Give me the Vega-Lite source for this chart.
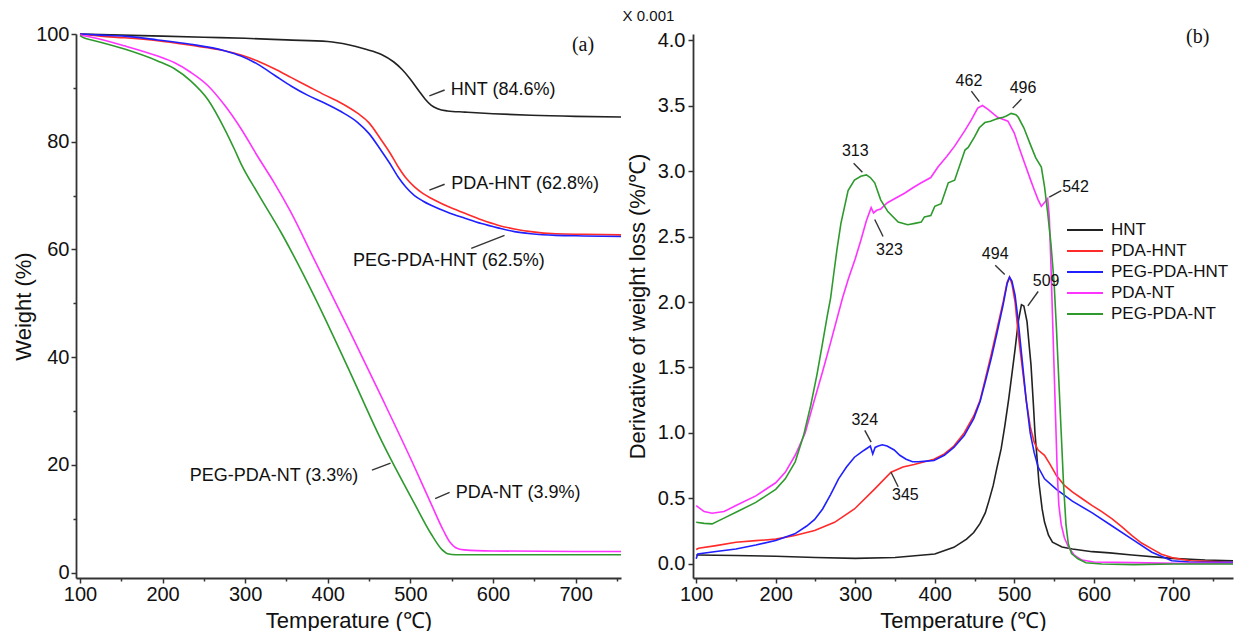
{
  "$schema": "https://vega.github.io/schema/vega-lite/v6.json",
  "background": "white",
  "padding": {"left": 12, "top": 9, "right": 0, "bottom": 0},
  "bounds": "flush",
  "spacing": 72,
  "config": {
    "font": "Liberation Sans",
    "view": {"stroke": null},
    "axis": {
      "domainColor": "#333333", "domainWidth": 1.8, "tickColor": "#333333", "tickWidth": 1.5,
      "labelFont": "Liberation Sans", "labelFontSize": 20, "labelColor": "#111111",
      "titleFont": "Liberation Sans", "titleFontSize": 22, "titleFontWeight": "normal", "titleColor": "#111111",
      "grid": false
    }
  },
  "datasets": {
    "tga": [
      {"s":"HNT","T":100,"W":100},{"s":"HNT","T":150,"W":99.8},{"s":"HNT","T":200,"W":99.6},{"s":"HNT","T":250,"W":99.4},{"s":"HNT","T":300,"W":99.2},{"s":"HNT","T":350,"W":98.9},{"s":"HNT","T":400,"W":98.6},{"s":"HNT","T":425,"W":98.0},{"s":"HNT","T":445,"W":97.2},{"s":"HNT","T":465,"W":96.2},{"s":"HNT","T":480,"W":94.8},{"s":"HNT","T":490,"W":93.4},{"s":"HNT","T":500,"W":91.6},{"s":"HNT","T":510,"W":89.5},{"s":"HNT","T":518,"W":87.9},{"s":"HNT","T":525,"W":86.8},{"s":"HNT","T":533,"W":86.1},{"s":"HNT","T":545,"W":85.7},{"s":"HNT","T":566,"W":85.5},{"s":"HNT","T":600,"W":85.2},{"s":"HNT","T":646,"W":84.9},{"s":"HNT","T":700,"W":84.7},{"s":"HNT","T":755,"W":84.6},
      {"s":"PDA-HNT","T":100,"W":100},{"s":"PDA-HNT","T":125,"W":99.6},{"s":"PDA-HNT","T":154,"W":99.3},{"s":"PDA-HNT","T":194,"W":98.75},{"s":"PDA-HNT","T":234,"W":97.9},{"s":"PDA-HNT","T":275,"W":96.9},{"s":"PDA-HNT","T":295,"W":96.1},{"s":"PDA-HNT","T":315,"W":95.0},{"s":"PDA-HNT","T":336,"W":93.5},{"s":"PDA-HNT","T":356,"W":91.9},{"s":"PDA-HNT","T":376,"W":90.3},{"s":"PDA-HNT","T":396,"W":88.7},{"s":"PDA-HNT","T":416,"W":87.2},{"s":"PDA-HNT","T":436,"W":85.3},{"s":"PDA-HNT","T":450,"W":83.5},{"s":"PDA-HNT","T":464,"W":80.5},{"s":"PDA-HNT","T":475,"W":78.0},{"s":"PDA-HNT","T":485,"W":75.4},{"s":"PDA-HNT","T":495,"W":73.2},{"s":"PDA-HNT","T":505,"W":71.6},{"s":"PDA-HNT","T":515,"W":70.4},{"s":"PDA-HNT","T":525,"W":69.5},{"s":"PDA-HNT","T":545,"W":68.0},{"s":"PDA-HNT","T":566,"W":66.7},{"s":"PDA-HNT","T":586,"W":65.5},{"s":"PDA-HNT","T":606,"W":64.5},{"s":"PDA-HNT","T":626,"W":63.8},{"s":"PDA-HNT","T":646,"W":63.3},{"s":"PDA-HNT","T":676,"W":62.9},{"s":"PDA-HNT","T":710,"W":62.8},{"s":"PDA-HNT","T":755,"W":62.7},
      {"s":"PEG-PDA-HNT","T":100,"W":100},{"s":"PEG-PDA-HNT","T":125,"W":99.8},{"s":"PEG-PDA-HNT","T":154,"W":99.6},{"s":"PEG-PDA-HNT","T":194,"W":98.9},{"s":"PEG-PDA-HNT","T":234,"W":98.1},{"s":"PEG-PDA-HNT","T":275,"W":96.9},{"s":"PEG-PDA-HNT","T":295,"W":95.9},{"s":"PEG-PDA-HNT","T":315,"W":94.4},{"s":"PEG-PDA-HNT","T":336,"W":92.3},{"s":"PEG-PDA-HNT","T":356,"W":90.3},{"s":"PEG-PDA-HNT","T":376,"W":88.6},{"s":"PEG-PDA-HNT","T":396,"W":87.2},{"s":"PEG-PDA-HNT","T":416,"W":85.6},{"s":"PEG-PDA-HNT","T":436,"W":83.6},{"s":"PEG-PDA-HNT","T":450,"W":81.5},{"s":"PEG-PDA-HNT","T":464,"W":78.5},{"s":"PEG-PDA-HNT","T":475,"W":76.0},{"s":"PEG-PDA-HNT","T":485,"W":73.5},{"s":"PEG-PDA-HNT","T":495,"W":71.5},{"s":"PEG-PDA-HNT","T":505,"W":70.0},{"s":"PEG-PDA-HNT","T":515,"W":69.0},{"s":"PEG-PDA-HNT","T":525,"W":68.2},{"s":"PEG-PDA-HNT","T":545,"W":66.9},{"s":"PEG-PDA-HNT","T":566,"W":65.8},{"s":"PEG-PDA-HNT","T":586,"W":64.8},{"s":"PEG-PDA-HNT","T":606,"W":64.0},{"s":"PEG-PDA-HNT","T":626,"W":63.3},{"s":"PEG-PDA-HNT","T":646,"W":62.9},{"s":"PEG-PDA-HNT","T":676,"W":62.6},{"s":"PEG-PDA-HNT","T":710,"W":62.5},{"s":"PEG-PDA-HNT","T":755,"W":62.4},
      {"s":"PDA-NT","T":100,"W":99.8},{"s":"PDA-NT","T":114,"W":99.4},{"s":"PDA-NT","T":154,"W":97.8},{"s":"PDA-NT","T":194,"W":95.9},{"s":"PDA-NT","T":214,"W":94.7},{"s":"PDA-NT","T":234,"W":92.9},{"s":"PDA-NT","T":255,"W":90.4},{"s":"PDA-NT","T":275,"W":86.8},{"s":"PDA-NT","T":295,"W":82.4},{"s":"PDA-NT","T":315,"W":77.3},{"s":"PDA-NT","T":335,"W":72.4},{"s":"PDA-NT","T":355,"W":67.0},{"s":"PDA-NT","T":384,"W":58.0},{"s":"PDA-NT","T":424,"W":45.6},{"s":"PDA-NT","T":465,"W":32.6},{"s":"PDA-NT","T":505,"W":19.6},{"s":"PDA-NT","T":525,"W":12.8},{"s":"PDA-NT","T":540,"W":7.8},{"s":"PDA-NT","T":548,"W":5.6},{"s":"PDA-NT","T":555,"W":4.6},{"s":"PDA-NT","T":565,"W":4.2},{"s":"PDA-NT","T":600,"W":4.0},{"s":"PDA-NT","T":700,"W":3.9},{"s":"PDA-NT","T":755,"W":3.9},
      {"s":"PEG-PDA-NT","T":100,"W":99.7},{"s":"PEG-PDA-NT","T":106,"W":99.2},{"s":"PEG-PDA-NT","T":114,"W":98.9},{"s":"PEG-PDA-NT","T":154,"W":97.2},{"s":"PEG-PDA-NT","T":194,"W":95.0},{"s":"PEG-PDA-NT","T":214,"W":93.6},{"s":"PEG-PDA-NT","T":234,"W":91.3},{"s":"PEG-PDA-NT","T":255,"W":87.8},{"s":"PEG-PDA-NT","T":275,"W":82.4},{"s":"PEG-PDA-NT","T":287,"W":78.6},{"s":"PEG-PDA-NT","T":295,"W":75.9},{"s":"PEG-PDA-NT","T":315,"W":70.5},{"s":"PEG-PDA-NT","T":344,"W":63.0},{"s":"PEG-PDA-NT","T":384,"W":51.2},{"s":"PEG-PDA-NT","T":424,"W":38.2},{"s":"PEG-PDA-NT","T":465,"W":24.5},{"s":"PEG-PDA-NT","T":505,"W":12.8},{"s":"PEG-PDA-NT","T":525,"W":7.2},{"s":"PEG-PDA-NT","T":538,"W":4.3},{"s":"PEG-PDA-NT","T":545,"W":3.5},{"s":"PEG-PDA-NT","T":555,"W":3.3},{"s":"PEG-PDA-NT","T":600,"W":3.3},{"s":"PEG-PDA-NT","T":700,"W":3.3},{"s":"PEG-PDA-NT","T":755,"W":3.3}
    ],
    "annA": [
      {"T":549,"W":89.6,"t":"HNT (84.6%)"},
      {"T":549.5,"W":72.1,"t":"PDA-HNT (62.8%)"},
      {"T":430.5,"W":57.9,"t":"PEG-PDA-HNT (62.5%)"},
      {"T":232.8,"W":18.0,"t":"PEG-PDA-NT (3.3%)"},
      {"T":555,"W":14.7,"t":"PDA-NT (3.9%)"}
    ],
    "leadA": [
      {"T":523,"W":88.5,"T2":541.5,"W2":89.6},
      {"T":523,"W":71.0,"T2":541.5,"W2":72.1},
      {"T":573.7,"W":60.2,"T2":614,"W2":62.6},
      {"T":453.5,"W":19.0,"T2":476,"W2":20.3},
      {"T":530,"W":13.7,"T2":547.5,"W2":14.9}
    ],
    "dtg": [
      {"s":"HNT","T":100,"D":0.069},{"s":"HNT","T":150,"D":0.065},{"s":"HNT","T":200,"D":0.059},{"s":"HNT","T":250,"D":0.05},{"s":"HNT","T":300,"D":0.043},{"s":"HNT","T":350,"D":0.05},{"s":"HNT","T":400,"D":0.076},{"s":"HNT","T":424,"D":0.127},{"s":"HNT","T":440,"D":0.19},{"s":"HNT","T":449,"D":0.24},{"s":"HNT","T":457,"D":0.31},{"s":"HNT","T":463.5,"D":0.39},{"s":"HNT","T":468,"D":0.48},{"s":"HNT","T":473.5,"D":0.6},{"s":"HNT","T":478,"D":0.73},{"s":"HNT","T":483.5,"D":0.88},{"s":"HNT","T":488,"D":1.05},{"s":"HNT","T":493,"D":1.26},{"s":"HNT","T":497,"D":1.45},{"s":"HNT","T":501,"D":1.64},{"s":"HNT","T":505,"D":1.85},{"s":"HNT","T":509,"D":1.98},{"s":"HNT","T":512,"D":1.97},{"s":"HNT","T":516,"D":1.85},{"s":"HNT","T":519,"D":1.65},{"s":"HNT","T":521,"D":1.52},{"s":"HNT","T":524,"D":1.22},{"s":"HNT","T":526,"D":1.0},{"s":"HNT","T":529,"D":0.78},{"s":"HNT","T":531,"D":0.62},{"s":"HNT","T":535,"D":0.42},{"s":"HNT","T":538,"D":0.32},{"s":"HNT","T":543,"D":0.22},{"s":"HNT","T":548,"D":0.166},{"s":"HNT","T":560,"D":0.13},{"s":"HNT","T":573,"D":0.115},{"s":"HNT","T":598,"D":0.094},{"s":"HNT","T":620,"D":0.085},{"s":"HNT","T":648,"D":0.069},{"s":"HNT","T":698,"D":0.043},{"s":"HNT","T":740,"D":0.03},{"s":"HNT","T":775,"D":0.025},
      {"s":"PDA-HNT","T":100,"D":0.11},{"s":"PDA-HNT","T":103,"D":0.12},{"s":"PDA-HNT","T":125,"D":0.14},{"s":"PDA-HNT","T":150,"D":0.166},{"s":"PDA-HNT","T":175,"D":0.178},{"s":"PDA-HNT","T":200,"D":0.19},{"s":"PDA-HNT","T":224,"D":0.217},{"s":"PDA-HNT","T":249,"D":0.255},{"s":"PDA-HNT","T":274,"D":0.318},{"s":"PDA-HNT","T":299,"D":0.42},{"s":"PDA-HNT","T":324,"D":0.57},{"s":"PDA-HNT","T":345,"D":0.7},{"s":"PDA-HNT","T":360,"D":0.74},{"s":"PDA-HNT","T":374,"D":0.76},{"s":"PDA-HNT","T":399,"D":0.8},{"s":"PDA-HNT","T":412,"D":0.84},{"s":"PDA-HNT","T":424,"D":0.9},{"s":"PDA-HNT","T":437,"D":1.0},{"s":"PDA-HNT","T":449,"D":1.13},{"s":"PDA-HNT","T":457,"D":1.25},{"s":"PDA-HNT","T":463.5,"D":1.41},{"s":"PDA-HNT","T":471,"D":1.6},{"s":"PDA-HNT","T":478.5,"D":1.8},{"s":"PDA-HNT","T":486,"D":2.0},{"s":"PDA-HNT","T":491,"D":2.15},{"s":"PDA-HNT","T":494,"D":2.19},{"s":"PDA-HNT","T":497,"D":2.14},{"s":"PDA-HNT","T":501,"D":2.0},{"s":"PDA-HNT","T":505,"D":1.75},{"s":"PDA-HNT","T":510,"D":1.5},{"s":"PDA-HNT","T":515,"D":1.25},{"s":"PDA-HNT","T":520,"D":1.05},{"s":"PDA-HNT","T":525,"D":0.93},{"s":"PDA-HNT","T":530,"D":0.87},{"s":"PDA-HNT","T":538,"D":0.83},{"s":"PDA-HNT","T":545,"D":0.76},{"s":"PDA-HNT","T":553,"D":0.675},{"s":"PDA-HNT","T":563,"D":0.6},{"s":"PDA-HNT","T":573,"D":0.55},{"s":"PDA-HNT","T":585,"D":0.5},{"s":"PDA-HNT","T":598,"D":0.446},{"s":"PDA-HNT","T":610,"D":0.4},{"s":"PDA-HNT","T":623,"D":0.344},{"s":"PDA-HNT","T":635,"D":0.285},{"s":"PDA-HNT","T":648,"D":0.217},{"s":"PDA-HNT","T":660,"D":0.16},{"s":"PDA-HNT","T":673,"D":0.115},{"s":"PDA-HNT","T":685,"D":0.075},{"s":"PDA-HNT","T":698,"D":0.05},{"s":"PDA-HNT","T":710,"D":0.035},{"s":"PDA-HNT","T":722,"D":0.025},{"s":"PDA-HNT","T":750,"D":0.018},{"s":"PDA-HNT","T":775,"D":0.013},
      {"s":"PEG-PDA-HNT","T":100,"D":0.04},{"s":"PEG-PDA-HNT","T":102,"D":0.077},{"s":"PEG-PDA-HNT","T":125,"D":0.095},{"s":"PEG-PDA-HNT","T":150,"D":0.115},{"s":"PEG-PDA-HNT","T":175,"D":0.145},{"s":"PEG-PDA-HNT","T":200,"D":0.18},{"s":"PEG-PDA-HNT","T":224,"D":0.23},{"s":"PEG-PDA-HNT","T":239,"D":0.29},{"s":"PEG-PDA-HNT","T":249,"D":0.34},{"s":"PEG-PDA-HNT","T":259,"D":0.42},{"s":"PEG-PDA-HNT","T":269,"D":0.53},{"s":"PEG-PDA-HNT","T":279,"D":0.65},{"s":"PEG-PDA-HNT","T":289,"D":0.74},{"s":"PEG-PDA-HNT","T":299,"D":0.815},{"s":"PEG-PDA-HNT","T":309,"D":0.86},{"s":"PEG-PDA-HNT","T":314,"D":0.88},{"s":"PEG-PDA-HNT","T":319,"D":0.9},{"s":"PEG-PDA-HNT","T":322,"D":0.84},{"s":"PEG-PDA-HNT","T":325,"D":0.89},{"s":"PEG-PDA-HNT","T":329,"D":0.9},{"s":"PEG-PDA-HNT","T":334,"D":0.91},{"s":"PEG-PDA-HNT","T":340,"D":0.9},{"s":"PEG-PDA-HNT","T":349,"D":0.87},{"s":"PEG-PDA-HNT","T":356,"D":0.83},{"s":"PEG-PDA-HNT","T":364,"D":0.8},{"s":"PEG-PDA-HNT","T":372,"D":0.78},{"s":"PEG-PDA-HNT","T":379,"D":0.78},{"s":"PEG-PDA-HNT","T":390,"D":0.785},{"s":"PEG-PDA-HNT","T":399,"D":0.79},{"s":"PEG-PDA-HNT","T":412,"D":0.83},{"s":"PEG-PDA-HNT","T":424,"D":0.89},{"s":"PEG-PDA-HNT","T":437,"D":0.98},{"s":"PEG-PDA-HNT","T":449,"D":1.11},{"s":"PEG-PDA-HNT","T":457,"D":1.24},{"s":"PEG-PDA-HNT","T":463.5,"D":1.39},{"s":"PEG-PDA-HNT","T":471,"D":1.57},{"s":"PEG-PDA-HNT","T":478.5,"D":1.77},{"s":"PEG-PDA-HNT","T":486,"D":1.98},{"s":"PEG-PDA-HNT","T":491,"D":2.14},{"s":"PEG-PDA-HNT","T":494,"D":2.19},{"s":"PEG-PDA-HNT","T":497,"D":2.16},{"s":"PEG-PDA-HNT","T":501,"D":2.05},{"s":"PEG-PDA-HNT","T":505,"D":1.85},{"s":"PEG-PDA-HNT","T":510,"D":1.55},{"s":"PEG-PDA-HNT","T":515,"D":1.25},{"s":"PEG-PDA-HNT","T":520,"D":1.0},{"s":"PEG-PDA-HNT","T":525,"D":0.85},{"s":"PEG-PDA-HNT","T":530,"D":0.74},{"s":"PEG-PDA-HNT","T":538,"D":0.65},{"s":"PEG-PDA-HNT","T":553,"D":0.57},{"s":"PEG-PDA-HNT","T":573,"D":0.48},{"s":"PEG-PDA-HNT","T":598,"D":0.39},{"s":"PEG-PDA-HNT","T":623,"D":0.29},{"s":"PEG-PDA-HNT","T":648,"D":0.19},{"s":"PEG-PDA-HNT","T":673,"D":0.09},{"s":"PEG-PDA-HNT","T":698,"D":0.025},{"s":"PEG-PDA-HNT","T":720,"D":0.015},{"s":"PEG-PDA-HNT","T":775,"D":0.013},
      {"s":"PDA-NT","T":100,"D":0.446},{"s":"PDA-NT","T":110,"D":0.4},{"s":"PDA-NT","T":120,"D":0.387},{"s":"PDA-NT","T":135,"D":0.4},{"s":"PDA-NT","T":150,"D":0.446},{"s":"PDA-NT","T":175,"D":0.52},{"s":"PDA-NT","T":200,"D":0.62},{"s":"PDA-NT","T":212,"D":0.7},{"s":"PDA-NT","T":224.5,"D":0.83},{"s":"PDA-NT","T":237,"D":1.0},{"s":"PDA-NT","T":249,"D":1.26},{"s":"PDA-NT","T":259,"D":1.47},{"s":"PDA-NT","T":269,"D":1.69},{"s":"PDA-NT","T":284,"D":2.03},{"s":"PDA-NT","T":291,"D":2.17},{"s":"PDA-NT","T":300,"D":2.33},{"s":"PDA-NT","T":307,"D":2.47},{"s":"PDA-NT","T":314,"D":2.62},{"s":"PDA-NT","T":320,"D":2.72},{"s":"PDA-NT","T":323,"D":2.68},{"s":"PDA-NT","T":327,"D":2.7},{"s":"PDA-NT","T":332,"D":2.71},{"s":"PDA-NT","T":337,"D":2.74},{"s":"PDA-NT","T":341,"D":2.76},{"s":"PDA-NT","T":350,"D":2.79},{"s":"PDA-NT","T":362,"D":2.83},{"s":"PDA-NT","T":372,"D":2.87},{"s":"PDA-NT","T":383,"D":2.91},{"s":"PDA-NT","T":395,"D":2.95},{"s":"PDA-NT","T":404,"D":3.03},{"s":"PDA-NT","T":415,"D":3.11},{"s":"PDA-NT","T":425,"D":3.19},{"s":"PDA-NT","T":438,"D":3.31},{"s":"PDA-NT","T":446,"D":3.39},{"s":"PDA-NT","T":454,"D":3.48},{"s":"PDA-NT","T":460,"D":3.5},{"s":"PDA-NT","T":467,"D":3.47},{"s":"PDA-NT","T":479,"D":3.41},{"s":"PDA-NT","T":492,"D":3.38},{"s":"PDA-NT","T":500,"D":3.29},{"s":"PDA-NT","T":506,"D":3.18},{"s":"PDA-NT","T":513,"D":3.06},{"s":"PDA-NT","T":520,"D":2.94},{"s":"PDA-NT","T":525.5,"D":2.85},{"s":"PDA-NT","T":530,"D":2.78},{"s":"PDA-NT","T":534,"D":2.73},{"s":"PDA-NT","T":538,"D":2.76},{"s":"PDA-NT","T":542,"D":2.79},{"s":"PDA-NT","T":544,"D":2.65},{"s":"PDA-NT","T":546,"D":2.3},{"s":"PDA-NT","T":548,"D":1.9},{"s":"PDA-NT","T":550,"D":1.5},{"s":"PDA-NT","T":552,"D":1.1},{"s":"PDA-NT","T":554,"D":0.7},{"s":"PDA-NT","T":556,"D":0.45},{"s":"PDA-NT","T":559,"D":0.3},{"s":"PDA-NT","T":563,"D":0.2},{"s":"PDA-NT","T":568,"D":0.13},{"s":"PDA-NT","T":575,"D":0.07},{"s":"PDA-NT","T":585,"D":0.03},{"s":"PDA-NT","T":600,"D":0.015},{"s":"PDA-NT","T":650,"D":0.01},{"s":"PDA-NT","T":700,"D":0.005},{"s":"PDA-NT","T":775,"D":0.005},
      {"s":"PEG-PDA-NT","T":100,"D":0.318},{"s":"PEG-PDA-NT","T":110,"D":0.31},{"s":"PEG-PDA-NT","T":120,"D":0.306},{"s":"PEG-PDA-NT","T":135,"D":0.35},{"s":"PEG-PDA-NT","T":150,"D":0.395},{"s":"PEG-PDA-NT","T":175,"D":0.47},{"s":"PEG-PDA-NT","T":200,"D":0.57},{"s":"PEG-PDA-NT","T":212,"D":0.65},{"s":"PEG-PDA-NT","T":224.5,"D":0.78},{"s":"PEG-PDA-NT","T":235,"D":0.98},{"s":"PEG-PDA-NT","T":244,"D":1.21},{"s":"PEG-PDA-NT","T":252,"D":1.45},{"s":"PEG-PDA-NT","T":259,"D":1.69},{"s":"PEG-PDA-NT","T":265,"D":1.9},{"s":"PEG-PDA-NT","T":269,"D":2.03},{"s":"PEG-PDA-NT","T":272,"D":2.17},{"s":"PEG-PDA-NT","T":277,"D":2.4},{"s":"PEG-PDA-NT","T":282,"D":2.6},{"s":"PEG-PDA-NT","T":291,"D":2.85},{"s":"PEG-PDA-NT","T":299,"D":2.93},{"s":"PEG-PDA-NT","T":307,"D":2.96},{"s":"PEG-PDA-NT","T":314,"D":2.97},{"s":"PEG-PDA-NT","T":319,"D":2.95},{"s":"PEG-PDA-NT","T":324.5,"D":2.91},{"s":"PEG-PDA-NT","T":332,"D":2.78},{"s":"PEG-PDA-NT","T":341,"D":2.69},{"s":"PEG-PDA-NT","T":354,"D":2.61},{"s":"PEG-PDA-NT","T":366,"D":2.59},{"s":"PEG-PDA-NT","T":375,"D":2.6},{"s":"PEG-PDA-NT","T":383,"D":2.61},{"s":"PEG-PDA-NT","T":387,"D":2.65},{"s":"PEG-PDA-NT","T":395,"D":2.66},{"s":"PEG-PDA-NT","T":400,"D":2.73},{"s":"PEG-PDA-NT","T":408,"D":2.75},{"s":"PEG-PDA-NT","T":417,"D":2.91},{"s":"PEG-PDA-NT","T":425,"D":2.93},{"s":"PEG-PDA-NT","T":438,"D":3.16},{"s":"PEG-PDA-NT","T":442,"D":3.18},{"s":"PEG-PDA-NT","T":450,"D":3.26},{"s":"PEG-PDA-NT","T":456,"D":3.33},{"s":"PEG-PDA-NT","T":463,"D":3.37},{"s":"PEG-PDA-NT","T":470,"D":3.38},{"s":"PEG-PDA-NT","T":479,"D":3.4},{"s":"PEG-PDA-NT","T":486,"D":3.41},{"s":"PEG-PDA-NT","T":490,"D":3.42},{"s":"PEG-PDA-NT","T":496,"D":3.44},{"s":"PEG-PDA-NT","T":502,"D":3.43},{"s":"PEG-PDA-NT","T":505,"D":3.41},{"s":"PEG-PDA-NT","T":512,"D":3.33},{"s":"PEG-PDA-NT","T":521,"D":3.19},{"s":"PEG-PDA-NT","T":527,"D":3.1},{"s":"PEG-PDA-NT","T":534,"D":3.03},{"s":"PEG-PDA-NT","T":538,"D":2.88},{"s":"PEG-PDA-NT","T":542,"D":2.68},{"s":"PEG-PDA-NT","T":546,"D":2.45},{"s":"PEG-PDA-NT","T":550,"D":2.15},{"s":"PEG-PDA-NT","T":553,"D":1.8},{"s":"PEG-PDA-NT","T":556,"D":1.4},{"s":"PEG-PDA-NT","T":559,"D":1.0},{"s":"PEG-PDA-NT","T":562,"D":0.6},{"s":"PEG-PDA-NT","T":565,"D":0.3},{"s":"PEG-PDA-NT","T":568,"D":0.15},{"s":"PEG-PDA-NT","T":572,"D":0.08},{"s":"PEG-PDA-NT","T":580,"D":0.04},{"s":"PEG-PDA-NT","T":590,"D":0.01},{"s":"PEG-PDA-NT","T":610,"D":0.0},{"s":"PEG-PDA-NT","T":650,"D":-0.005},{"s":"PEG-PDA-NT","T":700,"D":0.0},{"s":"PEG-PDA-NT","T":775,"D":0.0}
    ],
    "annB": [
      {"T":300,"D":3.15,"t":"313"},{"T":343,"D":2.4,"t":"323"},{"T":443,"D":3.69,"t":"462"},{"T":511,"D":3.63,"t":"496"},{"T":577,"D":2.88,"t":"542"},{"T":476,"D":2.37,"t":"494"},{"T":540,"D":2.16,"t":"509"},{"T":312,"D":1.1,"t":"324"},{"T":363,"D":0.53,"t":"345"}
    ],
    "leadB": [
      {"T":298,"D":3.06,"T2":309,"D2":2.99},{"T":324.5,"D":2.63,"T2":335,"D2":2.5},{"T":446,"D":3.61,"T2":456,"D2":3.53},{"T":509,"D":3.55,"T2":498,"D2":3.48},{"T":559,"D":2.85,"T2":544,"D2":2.8},{"T":476,"D":2.28,"T2":488,"D2":2.21},{"T":530,"D":2.08,"T2":517,"D2":1.97},{"T":312,"D":1.02,"T2":320,"D2":0.93},{"T":345,"D":0.7,"T2":354,"D2":0.59}
    ]
  },
  "hconcat": [
    {
      "width": 545, "height": 544,
      "layer": [
        {
          "data": {"name": "tga"},
          "mark": {"type": "line", "strokeWidth": 1.6, "interpolate": "monotone"},
          "encoding": {
            "x": {"field": "T", "type": "quantitative", "scale": {"domain": [95.2, 755], "nice": false, "zero": false},
              "axis": {"title": "Temperature (℃)", "values": [100,150,200,250,300,350,400,450,500,550,600,650,700,750],
                "labelExpr": "datum.value % 100 === 0 ? datum.label : ''",
                "tickSize": {"condition": {"test": "datum.value % 100 === 0", "value": 5}, "value": 3},
                "labelPadding": 1, "titlePadding": 6}},
            "y": {"field": "W", "type": "quantitative", "scale": {"domain": [-1.02, 100], "nice": false, "zero": false},
              "axis": {"title": "Weight (%)", "values": [0,10,20,30,40,50,60,70,80,90,100],
                "labelExpr": "datum.value % 20 === 0 ? datum.label : ''",
                "tickSize": {"condition": {"test": "datum.value % 20 === 0", "value": 5}, "value": 3},
                "labelPadding": 2, "titlePadding": 0}},
            "color": {"field": "s", "type": "nominal",
              "scale": {"domain": ["HNT","PDA-HNT","PEG-PDA-HNT","PDA-NT","PEG-PDA-NT"], "range": ["#222222","#ff2a2a","#1f1fff","#ff33ff","#2e9a2e"]},
              "legend": null}
          }
        },
        {
          "data": {"name": "leadA"},
          "mark": {"type": "rule", "strokeWidth": 1.4, "color": "#333333"},
          "encoding": {"x": {"field": "T", "type": "quantitative"}, "y": {"field": "W", "type": "quantitative"}, "x2": {"field": "T2"}, "y2": {"field": "W2"}}
        },
        {
          "data": {"name": "annA"},
          "mark": {"type": "text", "align": "left", "baseline": "middle", "fontSize": 18, "color": "#111111", "font": "Liberation Sans"},
          "encoding": {"x": {"field": "T", "type": "quantitative"}, "y": {"field": "W", "type": "quantitative"}, "text": {"field": "t"}}
        },
        {
          "data": {"values": [{"T": 709, "W": 98, "t": "(a)"}]},
          "mark": {"type": "text", "align": "center", "baseline": "middle", "fontSize": 20, "color": "#111111", "font": "Liberation Serif"},
          "encoding": {"x": {"field": "T", "type": "quantitative"}, "y": {"field": "W", "type": "quantitative"}, "text": {"field": "t"}}
        }
      ]
    },
    {
      "width": 540, "height": 544,
      "layer": [
        {
          "data": {"name": "dtg"},
          "mark": {"type": "line", "strokeWidth": 1.6},
          "encoding": {
            "x": {"field": "T", "type": "quantitative", "scale": {"domain": [96, 775], "nice": false, "zero": false},
              "axis": {"title": "Temperature (℃)", "values": [100,150,200,250,300,350,400,450,500,550,600,650,700,750],
                "labelExpr": "datum.value % 100 === 0 ? datum.label : ''",
                "tickSize": {"condition": {"test": "datum.value % 100 === 0", "value": 5}, "value": 3},
                "labelPadding": 1, "titlePadding": 6}},
            "y": {"field": "D", "type": "quantitative", "scale": {"domain": [-0.107, 4.046], "nice": false, "zero": false},
              "axis": {"title": "Derivative of weight loss (%/℃)", "values": [0,0.25,0.5,0.75,1,1.25,1.5,1.75,2,2.25,2.5,2.75,3,3.25,3.5,3.75,4],
                "labelExpr": "round(datum.value*2) == datum.value*2 ? format(datum.value, '.1f') : ''",
                "tickSize": {"condition": {"test": "round(datum.value*2) == datum.value*2", "value": 5}, "value": 3},
                "labelPadding": 3, "titlePadding": 8}},
            "color": {"field": "s", "type": "nominal",
              "scale": {"domain": ["HNT","PDA-HNT","PEG-PDA-HNT","PDA-NT","PEG-PDA-NT"], "range": ["#222222","#ff2a2a","#1f1fff","#ff33ff","#2e9a2e"]},
              "legend": {"orient": "none", "legendX": 382, "legendY": 186, "title": null, "symbolType": "M-2,0H2", "symbolSize": 324, "symbolStrokeWidth": 2, "labelFontSize": 17, "labelFont": "Liberation Sans", "labelColor": "#111111", "rowPadding": 3, "labelOffset": 16}}
          }
        },
        {
          "data": {"name": "leadB"},
          "mark": {"type": "rule", "strokeWidth": 1.4, "color": "#333333"},
          "encoding": {"x": {"field": "T", "type": "quantitative"}, "y": {"field": "D", "type": "quantitative"}, "x2": {"field": "T2"}, "y2": {"field": "D2"}}
        },
        {
          "data": {"name": "annB"},
          "mark": {"type": "text", "align": "center", "baseline": "middle", "fontSize": 16, "color": "#111111", "font": "Liberation Sans"},
          "encoding": {"x": {"field": "T", "type": "quantitative"}, "y": {"field": "D", "type": "quantitative"}, "text": {"field": "t"}}
        },
        {
          "data": {"values": [{"T": 730.6, "D": 4.02, "t": "(b)"}]},
          "mark": {"type": "text", "align": "center", "baseline": "middle", "fontSize": 20, "color": "#111111", "font": "Liberation Serif"},
          "encoding": {"x": {"field": "T", "type": "quantitative"}, "y": {"field": "D", "type": "quantitative"}, "text": {"field": "t"}}
        },
        {
          "data": {"values": [{"T": 40, "D": 4.18, "t": "X 0.001"}]},
          "mark": {"type": "text", "align": "center", "baseline": "middle", "fontSize": 15, "color": "#111111", "font": "Liberation Sans"},
          "encoding": {"x": {"field": "T", "type": "quantitative"}, "y": {"field": "D", "type": "quantitative"}, "text": {"field": "t"}}
        }
      ],
      "resolve": {"scale": {"color": "shared"}}
    }
  ],
  "resolve": {"legend": {"color": "independent"}, "scale": {"color": "independent"}}
}
